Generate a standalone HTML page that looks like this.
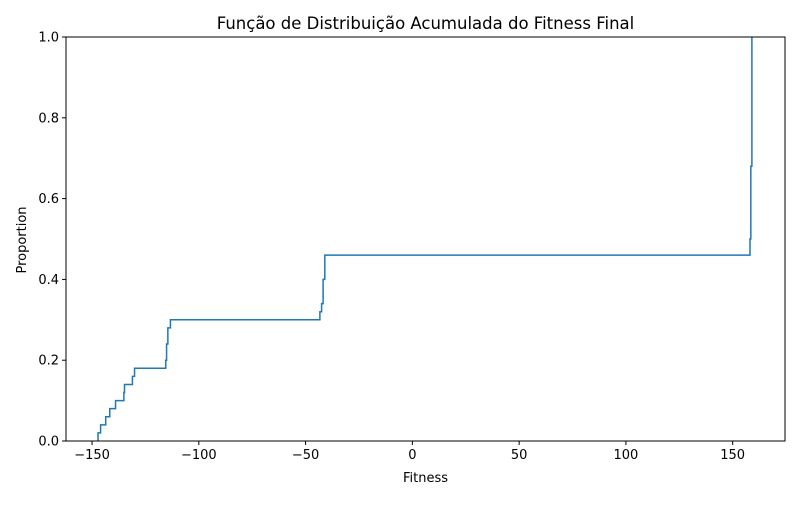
<!DOCTYPE html>
<html><head><meta charset="utf-8"><style>
body{margin:0;background:#fff;}
svg text{font-family:"DejaVu Sans","Liberation Sans",sans-serif;fill:#000;}
</style></head><body>
<svg id="chart" width="800" height="500">
<rect width="800" height="500" fill="#fff"/>
<text x="425.5" y="29" text-anchor="middle" font-size="16.5">Função de Distribuição Acumulada do Fitness Final</text>
<g id="ticks"></g>
<path id="ecdf" fill="none" stroke="#1f77b4" stroke-width="1.5"/>
<rect x="66" y="37" width="719" height="404" fill="none" stroke="#000" stroke-width="1"/>
<text x="425.5" y="482" text-anchor="middle" font-size="13">Fitness</text>
<text transform="translate(26,240) rotate(-90)" text-anchor="middle" font-size="13">Proportion</text>
</svg>
<script>
const fitnessValues = [-147.2,-146.0,-143.6,-141.7,-139.0,-135.1,-134.8,-131.1,-130.1,-115.5,-115.1,-115.1,-114.5,-114.5,-113.3,
 -43.3,-42.5,-41.8,-41.8,-41.8,-41.0,-41.0,-41.0,
 158.1,158.1,158.5,158.5,158.5,158.5,158.5,158.5,158.5,158.5,158.5,
 159.0,159.0,159.0,159.0,159.0,159.0,159.0,159.0,159.0,159.0,159.0,159.0,159.0,159.0,159.0,159.0];
const xTicks = [-150,-100,-50,0,50,100,150];
const xTickLabels = ["\u2212150","\u2212100","\u221250","0","50","100","150"];
const yTicks = [0,0.2,0.4,0.6,0.8,1.0];
const yTickLabels = ["0.0","0.2","0.4","0.6","0.8","1.0"];

const X0=66,X1=785,Y0=441,Y1=37, xmin=-162.2, xmax=174.5;
const sx=v=>X0+(v-xmin)/(xmax-xmin)*(X1-X0);
const sy=v=>Y0-v*(Y0-Y1);
const NS="http://www.w3.org/2000/svg";
const g=document.getElementById('ticks');
xTicks.forEach((t,i)=>{
  const l=document.createElementNS(NS,'line');
  
  
  l.setAttribute('x1',sx(t));l.setAttribute('x2',sx(t));l.setAttribute('y1',Y0);l.setAttribute('y2',Y0+4);l.setAttribute('stroke','#000');
  g.appendChild(l);
  const tx=document.createElementNS(NS,'text');
  
  
  tx.setAttribute('x',sx(t));tx.setAttribute('y',Y0+18);tx.setAttribute('text-anchor','middle');tx.setAttribute('font-size','13');
  tx.textContent=xTickLabels[i];g.appendChild(tx);
});
yTicks.forEach((t,i)=>{
  const l=document.createElementNS(NS,'line');
  
  
  l.setAttribute('x1',X0-4);l.setAttribute('x2',X0);l.setAttribute('y1',sy(t));l.setAttribute('y2',sy(t));l.setAttribute('stroke','#000');
  g.appendChild(l);
  const tx=document.createElementNS(NS,'text');
  
  
  tx.setAttribute('x',X0-7);tx.setAttribute('y',sy(t)+4.5);tx.setAttribute('text-anchor','end');tx.setAttribute('font-size','13');
  tx.textContent=yTickLabels[i];g.appendChild(tx);
});
const s=[...fitnessValues].sort((a,b)=>a-b);
const n=s.length;
let d='M'+sx(s[0])+','+sy(0);
s.forEach((v,i)=>{ d+=' L'+sx(v)+','+sy((i+1)/n); if(i<n-1) d+=' L'+sx(s[i+1])+','+sy((i+1)/n); });
document.getElementById('ecdf').setAttribute('d',d);
</script>
</body></html>
